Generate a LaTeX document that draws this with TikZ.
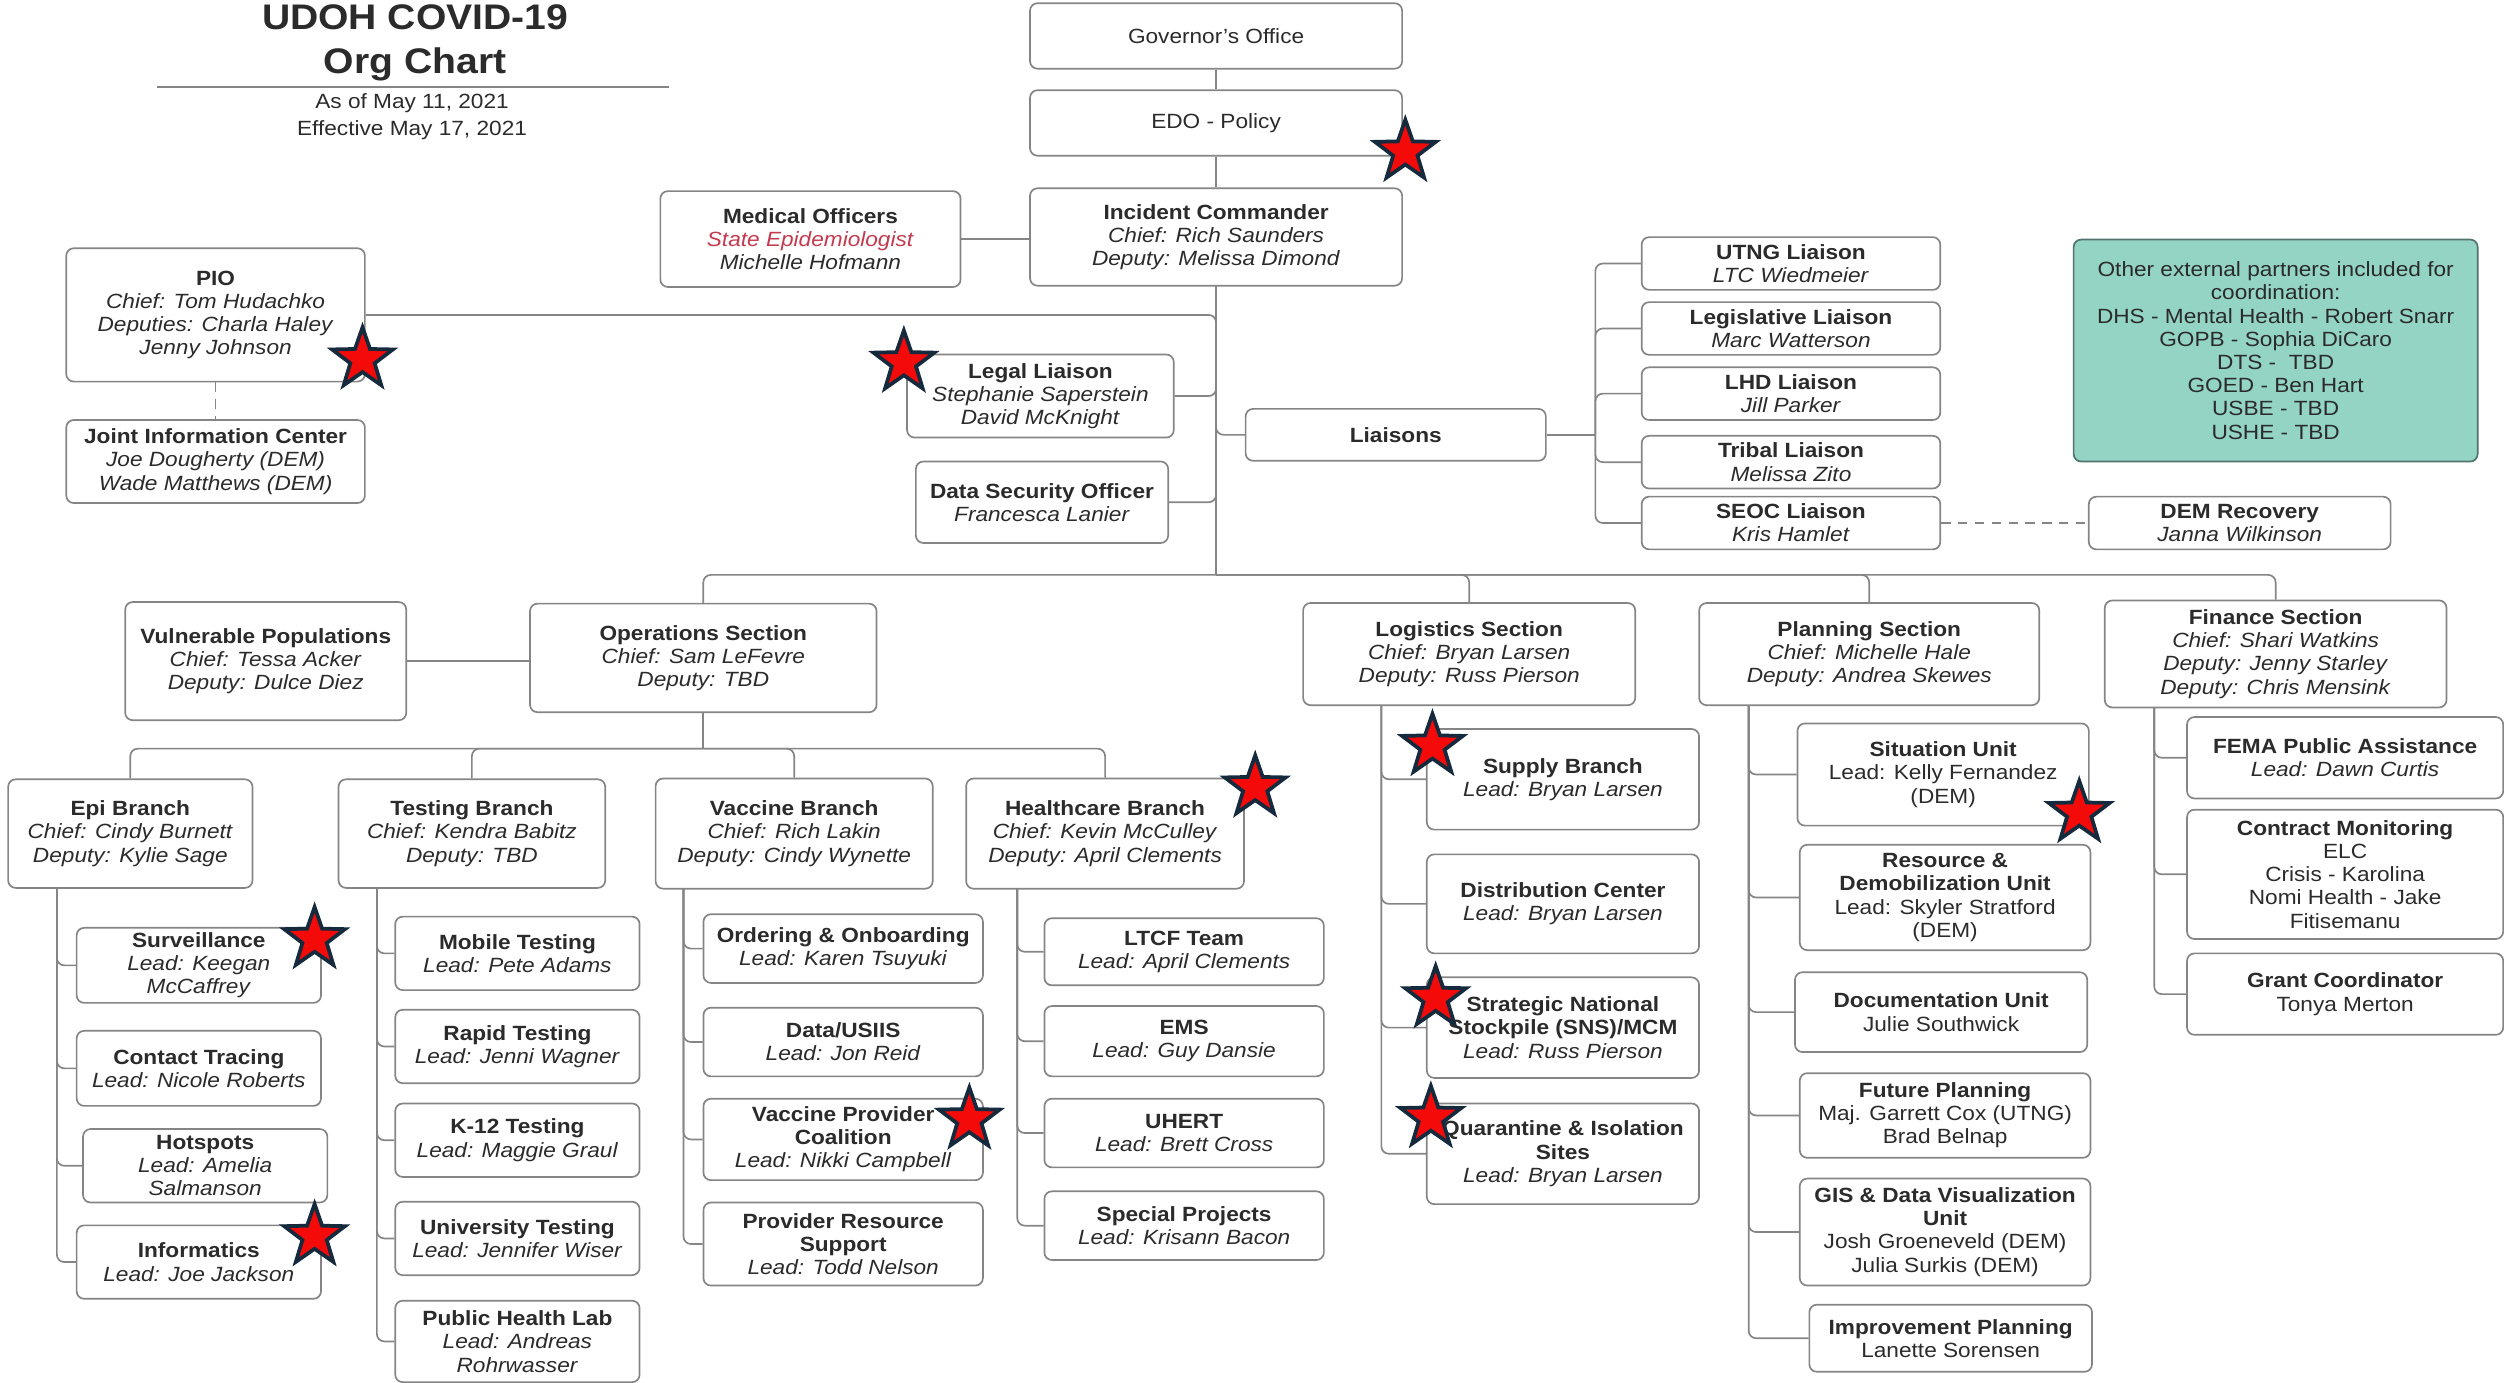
\documentclass[tikz,border=0pt]{standalone}
\usepackage{fontspec}
\setmainfont{Liberation Sans}[FakeStretch=1.1]
\usepackage{tikz}
\usetikzlibrary{shapes.geometric}
\definecolor{ink}{HTML}{2B2B2B}
\definecolor{rim}{HTML}{858585}
\definecolor{epired}{HTML}{C43A4E}
\definecolor{partner}{HTML}{93D4C5}
\definecolor{starred}{HTML}{F50A0A}
\definecolor{starnavy}{HTML}{152A3C}
\tikzset{
  box/.style = {draw=rim, line width=0.9pt, rounded corners=4pt, fill=white, align=center, inner sep=1pt, text=ink, font=\fontsize{11}{12.4}\selectfont},
  boxsize/.style 2 args = {minimum width=#1*0.03cm, minimum height=#2*0.03cm},
  link/.style = {draw=rim, line width=0.9pt, rounded corners=4pt},
  dottedlink/.style = {link, dash pattern=on 5pt off 4pt},
  starmark/.style = {star, star points=5, star point ratio=2.5, minimum size=1.2cm, inner sep=0pt, fill=starred, draw=starnavy, line width=2pt},
}

\begin{document}
\begin{tikzpicture}[x=0.03cm, y=-0.03cm]
	\useasboundingbox (0,0) rectangle (1568,866);
	% title block
	\node[text=ink, align=center, font=\fontsize{19}{23.5}\selectfont\bfseries] (title) at (260,27) {UDOH COVID-19\\Org Chart};
	\node[text=ink, align=center, font=\fontsize{11}{14.5}\selectfont] (issued) at (258,73) {As of May 11, 2021\\Effective May 17, 2021};
	\draw[rim, line width=0.9pt] (98,54.5) -- (419,54.5);

	% command staff
	\node[box, boxsize={233}{41}] (gov) at (761.5,22.5) {Governor's Office};
	\node[box, boxsize={233}{41}] (edo) at (761.5,77) {EDO - Policy};
	\node[box, boxsize={233}{61}] (ic) at (761.5,148.4) {\textbf{Incident Commander}\\\textit{Chief: Rich Saunders}\\\textit{Deputy: Melissa Dimond}};
	\node[box, boxsize={188}{60}] (medic) at (507.5,149.7) {\textbf{Medical Officers}\\\textcolor{epired}{\textit{State Epidemiologist}}\\\textit{Michelle Hofmann}};
	\node[box, boxsize={187}{83.5}] (pio) at (135,197.2) {\textbf{PIO}\\\textit{Chief: Tom Hudachko}\\\textit{Deputies: Charla Haley}\\\textit{Jenny Johnson}};
	\node[box, boxsize={187}{52}] (jic) at (135,289) {\textbf{Joint Information Center}\\\textit{Joe Dougherty (DEM)}\\\textit{Wade Matthews (DEM)}};
	\node[box, boxsize={167}{52}] (legal) at (651.5,248) {\textbf{Legal Liaison}\\\textit{Stephanie Saperstein}\\\textit{David McKnight}};
	\node[box, boxsize={158}{51}] (dso) at (652.5,314.5) {\textbf{Data Security Officer}\\\textit{Francesca Lanier}};
	\node[box, boxsize={188}{32.5}] (liaisons) at (874,272.3) {\textbf{Liaisons}};
	\node[box, boxsize={187}{33}] (utng) at (1121.5,165) {\textbf{UTNG Liaison}\\\textit{LTC Wiedmeier}};
	\node[box, boxsize={187}{33}] (legis) at (1121.5,205.7) {\textbf{Legislative Liaison}\\\textit{Marc Watterson}};
	\node[box, boxsize={187}{33}] (lhd) at (1121.5,246.5) {\textbf{LHD Liaison}\\\textit{Jill Parker}};
	\node[box, boxsize={187}{33}] (tribal) at (1121.5,289.4) {\textbf{Tribal Liaison}\\\textit{Melissa Zito}};
	\node[box, boxsize={187}{33}] (seoc) at (1121.5,327.5) {\textbf{SEOC Liaison}\\\textit{Kris Hamlet}};
	\node[box, boxsize={189}{33}] (dem) at (1402.5,327.5) {\textbf{DEM Recovery}\\\textit{Janna Wilkinson}};
	\node[box, boxsize={253}{139}, fill=partner, draw=partner!55!black] (partners) at (1425,219.5) {Other external partners included for\\coordination:\\DHS - Mental Health - Robert Snarr\\GOPB - Sophia DiCaro\\DTS -\ \ TBD\\GOED - Ben Hart\\USBE - TBD\\USHE - TBD};

	% sections
	\node[box, boxsize={176}{74}] (vuln) at (166.4,414) {\textbf{Vulnerable Populations}\\\textit{Chief: Tessa Acker}\\\textit{Deputy: Dulce Diez}};
	\node[box, boxsize={217}{68}] (ops) at (440.4,412) {\textbf{Operations Section}\\\textit{Chief: Sam LeFevre}\\\textit{Deputy: TBD}};
	\node[box, boxsize={208}{64}] (logis) at (920,409.6) {\textbf{Logistics Section}\\\textit{Chief: Bryan Larsen}\\\textit{Deputy: Russ Pierson}};
	\node[box, boxsize={213}{64}] (plan) at (1170.5,409.6) {\textbf{Planning Section}\\\textit{Chief: Michelle Hale}\\\textit{Deputy: Andrea Skewes}};
	\node[box, boxsize={214}{67}] (fin) at (1425,409.5) {\textbf{Finance Section}\\\textit{Chief: Shari Watkins}\\\textit{Deputy: Jenny Starley}\\\textit{Deputy: Chris Mensink}};

	% operations branches
	\node[box, boxsize={153}{68}] (epi) at (81.6,522) {\textbf{Epi Branch}\\\textit{Chief: Cindy Burnett}\\\textit{Deputy: Kylie Sage}};
	\node[box, boxsize={167}{68}] (testing) at (295.5,522) {\textbf{Testing Branch}\\\textit{Chief: Kendra Babitz}\\\textit{Deputy: TBD}};
	\node[box, boxsize={173.5}{69}] (vaccine) at (497.3,522) {\textbf{Vaccine Branch}\\\textit{Chief: Rich Lakin}\\\textit{Deputy: Cindy Wynette}};
	\node[box, boxsize={174}{69}] (health) at (692,522) {\textbf{Healthcare Branch}\\\textit{Chief: Kevin McCulley}\\\textit{Deputy: April Clements}};

	\node[box, boxsize={153}{47}] (surv) at (124.5,604.5) {\textbf{Surveillance}\\\textit{Lead: Keegan}\\\textit{McCaffrey}};
	\node[box, boxsize={153}{47}] (contact) at (124.5,669) {\textbf{Contact Tracing}\\\textit{Lead: Nicole Roberts}};
	\node[box, boxsize={153}{46}] (hotspots) at (128.5,730) {\textbf{Hotspots}\\\textit{Lead: Amelia}\\\textit{Salmanson}};
	\node[box, boxsize={153}{46}] (informatics) at (124.5,790.3) {\textbf{Informatics}\\\textit{Lead: Joe Jackson}};

	\node[box, boxsize={153}{46}] (mobile) at (324,597) {\textbf{Mobile Testing}\\\textit{Lead: Pete Adams}};
	\node[box, boxsize={153}{46}] (rapid) at (324,655.3) {\textbf{Rapid Testing}\\\textit{Lead: Jenni Wagner}};
	\node[box, boxsize={153}{46}] (ktwelve) at (324,714) {\textbf{K-12 Testing}\\\textit{Lead: Maggie Graul}};
	\node[box, boxsize={153}{46}] (univ) at (324,775.5) {\textbf{University Testing}\\\textit{Lead: Jennifer Wiser}};
	\node[box, boxsize={153}{51}] (phlab) at (324,840) {\textbf{Public Health Lab}\\\textit{Lead: Andreas}\\\textit{Rohrwasser}};

	\node[box, boxsize={175}{43}] (order) at (528,594) {\textbf{Ordering \& Onboarding}\\\textit{Lead: Karen Tsuyuki}};
	\node[box, boxsize={175}{43}] (usiis) at (528,652.5) {\textbf{Data/USIIS}\\\textit{Lead: Jon Reid}};
	\node[box, boxsize={175}{51}] (coalition) at (528,713.5) {\textbf{Vaccine Provider}\\\textbf{Coalition}\\\textit{Lead: Nikki Campbell}};
	\node[box, boxsize={175}{52}] (support) at (528,779) {\textbf{Provider Resource}\\\textbf{Support}\\\textit{Lead: Todd Nelson}};

	\node[box, boxsize={175}{42}] (ltcf) at (741.5,596) {\textbf{LTCF Team}\\\textit{Lead: April Clements}};
	\node[box, boxsize={175}{44}] (ems) at (741.5,652) {\textbf{EMS}\\\textit{Lead: Guy Dansie}};
	\node[box, boxsize={175}{43}] (uhert) at (741.5,709.5) {\textbf{UHERT}\\\textit{Lead: Brett Cross}};
	\node[box, boxsize={175}{43}] (special) at (741.5,767.5) {\textbf{Special Projects}\\\textit{Lead: Krisann Bacon}};

	% logistics, planning, finance units
	\node[box, boxsize={170.5}{63}] (supply) at (978.7,488) {\textbf{Supply Branch}\\\textit{Lead: Bryan Larsen}};
	\node[box, boxsize={170.5}{62}] (distrib) at (978.7,566) {\textbf{Distribution Center}\\\textit{Lead: Bryan Larsen}};
	\node[box, boxsize={170.5}{63}] (sns) at (978.7,643.5) {\textbf{Strategic National}\\\textbf{Stockpile (SNS)/MCM}\\\textit{Lead: Russ Pierson}};
	\node[box, boxsize={170.5}{63}] (isolation) at (978.7,722.5) {\textbf{Quarantine \& Isolation}\\\textbf{Sites}\\\textit{Lead: Bryan Larsen}};

	\node[box, boxsize={182.5}{64}] (situation) at (1216.8,485) {\textbf{Situation Unit}\\Lead: Kelly Fernandez\\(DEM)};
	\node[box, boxsize={182}{66}] (demob) at (1218,562) {\textbf{Resource \&}\\\textbf{Demobilization Unit}\\Lead: Skyler Stratford\\(DEM)};
	\node[box, boxsize={183}{50}] (docu) at (1215.5,633.8) {\textbf{Documentation Unit}\\Julie Southwick};
	\node[box, boxsize={182}{53}] (future) at (1218,698.5) {\textbf{Future Planning}\\Maj. Garrett Cox (UTNG)\\Brad Belnap};
	\node[box, boxsize={182}{67}] (gis) at (1218,771.5) {\textbf{GIS \& Data Visualization}\\\textbf{Unit}\\Josh Groeneveld (DEM)\\Julia Surkis (DEM)};
	\node[box, boxsize={177}{42}] (improve) at (1221.5,838) {\textbf{Improvement Planning}\\Lanette Sorensen};

	\node[box, boxsize={198}{51}] (fema) at (1468.5,474.5) {\textbf{FEMA Public Assistance}\\\textit{Lead: Dawn Curtis}};
	\node[box, boxsize={198}{81}] (contract) at (1468.5,547.5) {\textbf{Contract Monitoring}\\ELC\\Crisis - Karolina\\Nomi Health - Jake\\Fitisemanu};
	\node[box, boxsize={198}{51}] (grant) at (1468.5,622.5) {\textbf{Grant Coordinator}\\Tonya Merton};

	% connectors
	\coordinate (hub) at (761.5,360);
	\coordinate (lfork) at (999,272.3);
	\coordinate (opshub) at (440.4,468.8);
	\draw[link] (gov) -- (edo);
	\draw[link] (edo) -- (ic);
	\draw[link] (medic.east) -- (medic.east -| ic.west);
	\draw[link] (ic) -- (hub);
	\draw[link] (pio.east) -| (hub);
	\draw[dottedlink] (pio) -- (jic);
	\foreach \n in {legal,dso} \draw[link] (\n.east) -| (ic.south);
	\draw[link] (ic.south) |- (liaisons.west);
	\draw[link] (liaisons.east) -- (lfork);
	\foreach \n in {utng,legis,lhd,tribal,seoc} \draw[link] (lfork) |- (\n.west);
	\draw[dottedlink] (seoc) -- (dem);
	\foreach \n in {ops,logis,plan,fin} \draw[link] (hub) -| (\n.north);
	\draw[link] (vuln.east) -- (vuln.east -| ops.west);
	\draw[link] (ops) -- (opshub);
	\foreach \n in {epi,testing,vaccine,health} \draw[link] (opshub) -| (\n.north);

	\coordinate (epispine) at (35.6,556);
	\coordinate (testspine) at (236,556);
	\coordinate (vaxspine) at (428,556.5);
	\coordinate (hcspine) at (637,556.5);
	\coordinate (logspine) at (865,441.5);
	\coordinate (planspine) at (1095,441.5);
	\coordinate (finspine) at (1349,443);
	\foreach \n in {surv,contact,hotspots,informatics} \draw[link] (epispine) |- (\n.west);
	\foreach \n in {mobile,rapid,ktwelve,univ,phlab} \draw[link] (testspine) |- (\n.west);
	\foreach \n in {order,usiis,coalition,support} \draw[link] (vaxspine) |- (\n.west);
	\foreach \n in {ltcf,ems,uhert,special} \draw[link] (hcspine) |- (\n.west);
	\foreach \n in {supply,distrib,sns,isolation} \draw[link] (logspine) |- (\n.west);
	\foreach \n in {situation,demob,docu,future,gis,improve} \draw[link] (planspine) |- (\n.west);
	\foreach \n in {fema,contract,grant} \draw[link] (finspine) |- (\n.west);

	% stars
	\foreach \x/\y [count=\i] in {880/95, 227/225, 566/227, 197/588, 197/774, 786/493, 607/701, 897/467, 899/625, 896/700, 1302/509}
		\node[starmark] (star\i) at (\x,\y) {};
\end{tikzpicture}
\end{document}
